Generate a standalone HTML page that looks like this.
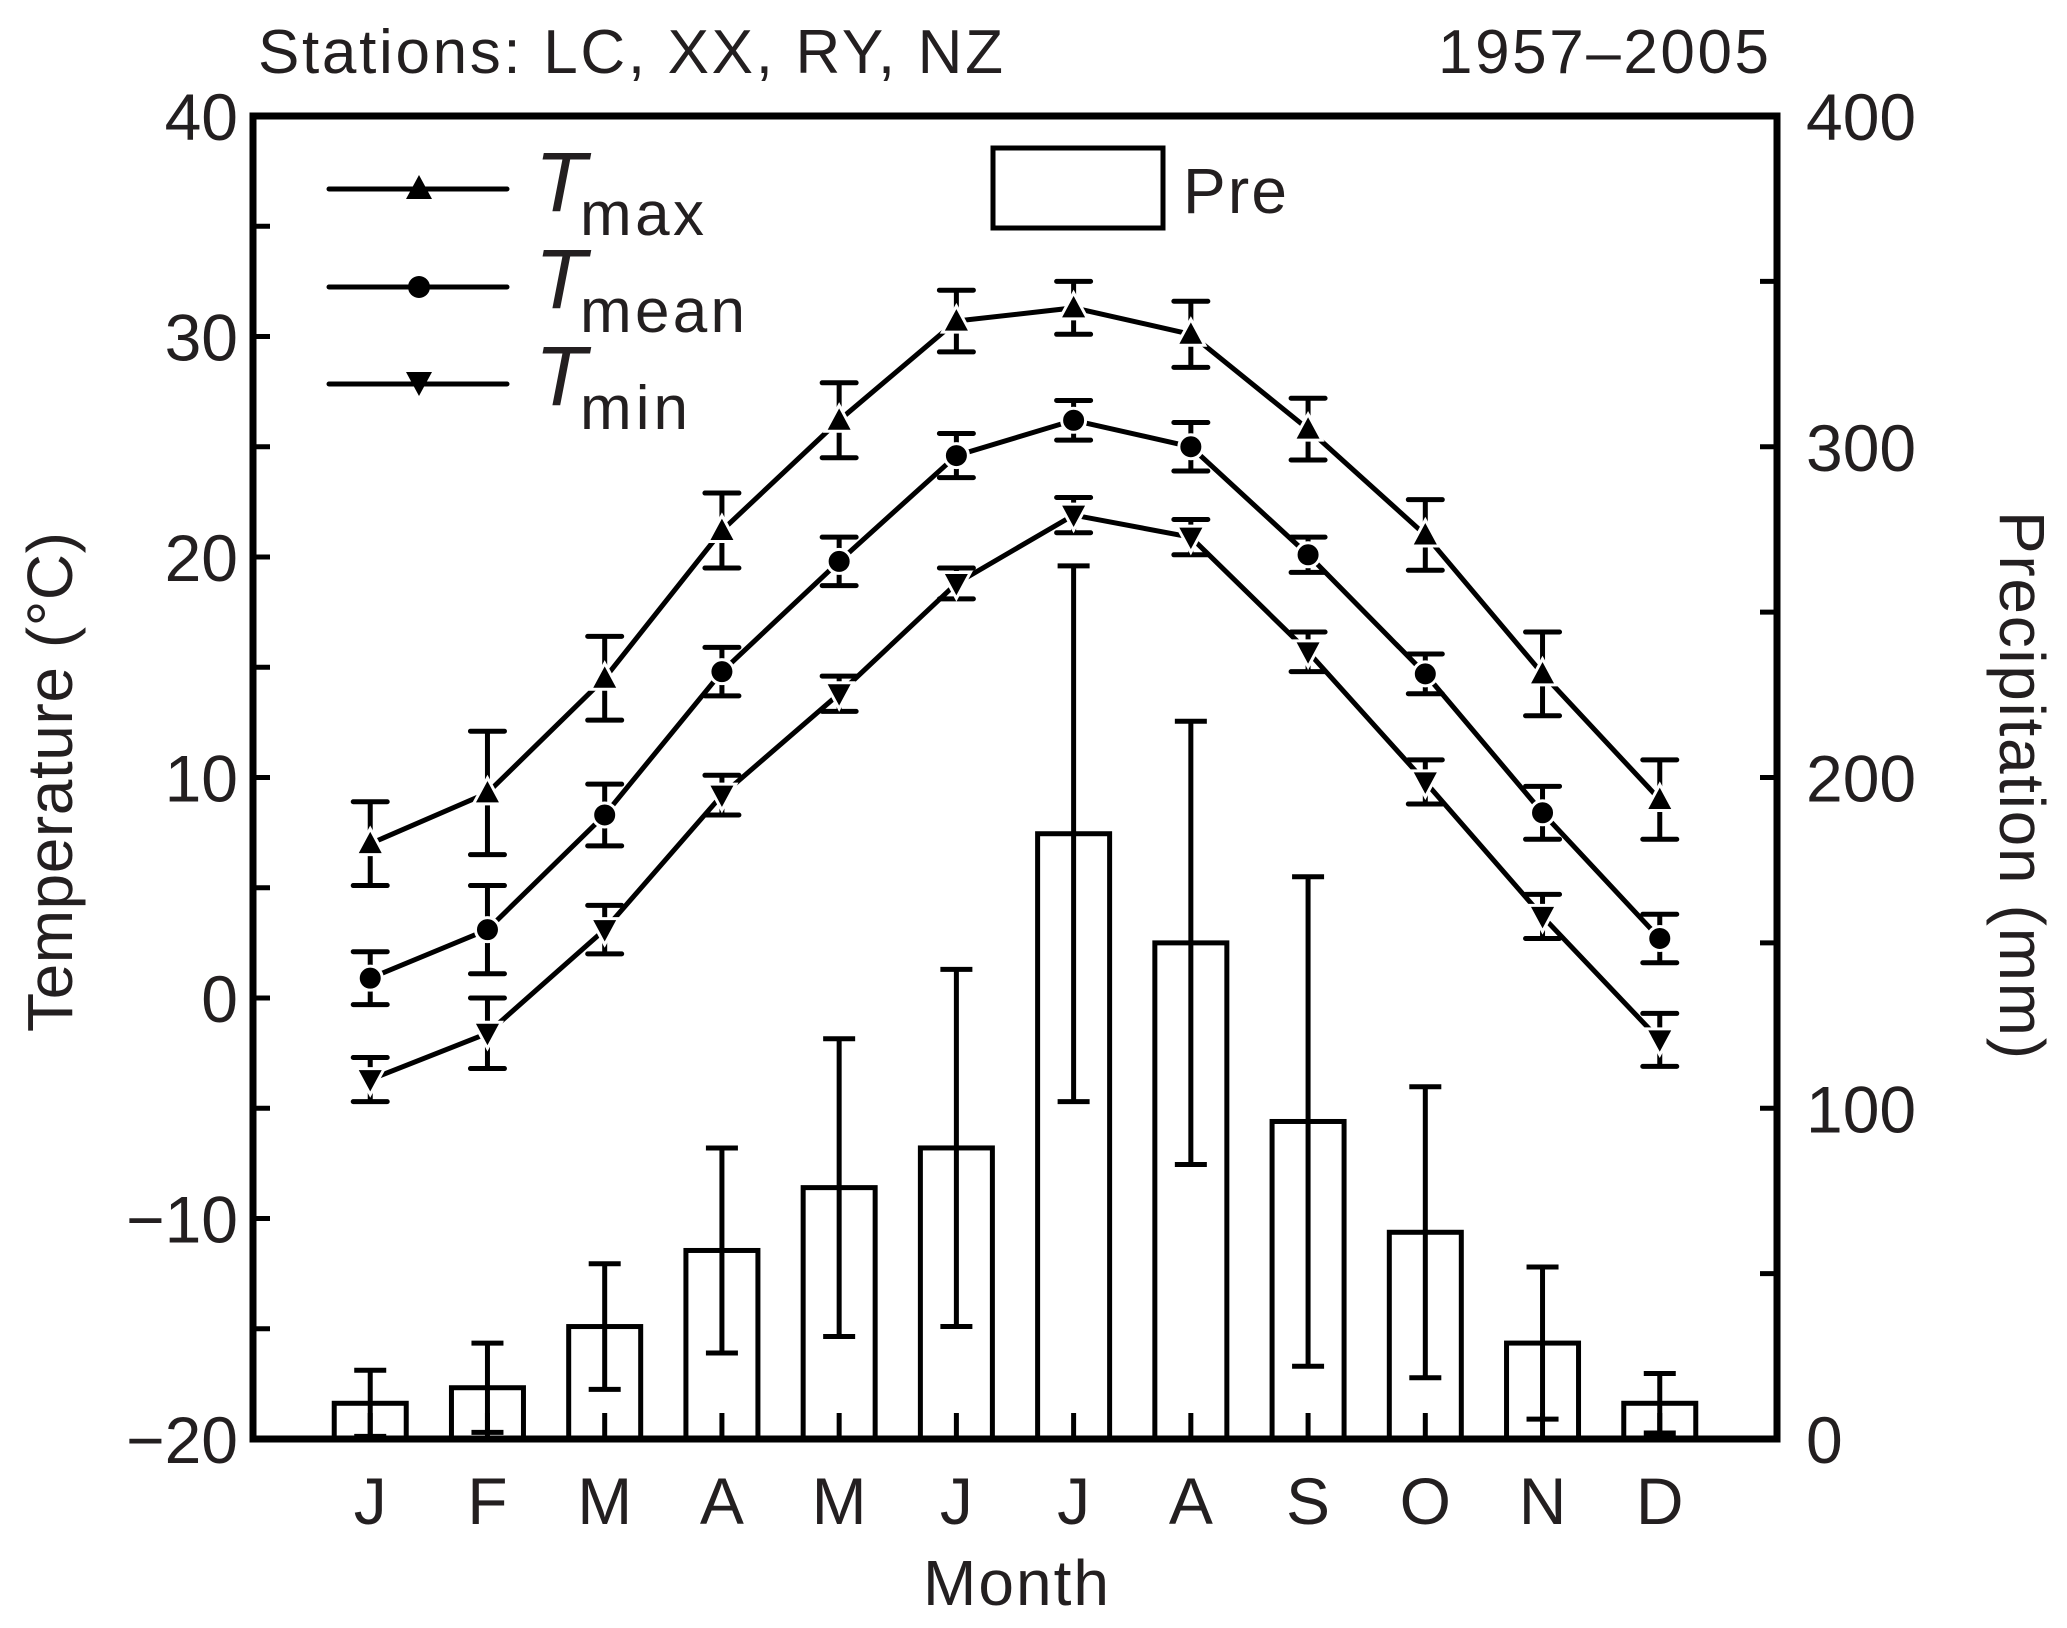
<!DOCTYPE html>
<html><head><meta charset="utf-8"><style>
html,body{margin:0;padding:0;background:#fff;}
svg text{font-family:"Liberation Sans",sans-serif;fill:#231f20;}
</style></head><body>
<svg id="c" width="2067" height="1623" viewBox="0 0 2067 1623" xmlns="http://www.w3.org/2000/svg">
<text x="258" y="73" font-size="62" textLength="745">Stations: LC, XX, RY, NZ</text>
<text x="1769" y="73" font-size="62" text-anchor="end" textLength="331">1957–2005</text>
<text transform="translate(72,782) rotate(-90)" font-size="64" text-anchor="middle" textLength="500">Temperature (°C)</text>
<text transform="translate(2000,785) rotate(90)" font-size="64" text-anchor="middle" textLength="548">Precipitation (mm)</text>
<text x="1016" y="1605" font-size="64" text-anchor="middle" textLength="186">Month</text>
<g id="plot"></g>
<g>
 <g>
  <line x1="329" y1="189" x2="507" y2="189" stroke="#000" stroke-width="5" stroke-linecap="round"/>
  <polygon points="419,175 406,199 432,199" fill="#000"/>
  <text x="535" y="211" font-size="84" font-style="italic">T</text>
  <text x="580" y="235" font-size="62" textLength="124">max</text>
 </g>
 <g>
  <line x1="329" y1="287" x2="507" y2="287" stroke="#000" stroke-width="5" stroke-linecap="round"/>
  <circle cx="419" cy="287" r="11" fill="#000"/>
  <text x="535" y="308" font-size="84" font-style="italic">T</text>
  <text x="580" y="332" font-size="62" textLength="165">mean</text>
 </g>
 <g>
  <line x1="329" y1="384" x2="507" y2="384" stroke="#000" stroke-width="5" stroke-linecap="round"/>
  <polygon points="419,396 406,372 432,372" fill="#000"/>
  <text x="535" y="405" font-size="84" font-style="italic">T</text>
  <text x="580" y="429" font-size="62" textLength="108">min</text>
 </g>
 <g>
  <rect x="993" y="148" width="170" height="80" fill="none" stroke="#000" stroke-width="5"/>
  <text x="1183" y="213" font-size="64" textLength="104">Pre</text>
 </g>
</g>
</svg>
<script>
const months = ["J","F","M","A","M","J","J","A","S","O","N","D"];
const tmax = [7.0,9.3,14.5,21.2,26.2,30.7,31.3,30.1,25.8,21.0,14.7,9.0];
const tmaxErr = [1.9,2.8,1.9,1.7,1.7,1.4,1.2,1.5,1.4,1.6,1.9,1.8];
const tmean = [0.9,3.1,8.3,14.8,19.8,24.6,26.2,25.0,20.1,14.7,8.4,2.7];
const tmeanErr = [1.2,2.0,1.4,1.1,1.1,1.0,0.9,1.1,0.8,0.9,1.2,1.1];
const tmin = [-3.7,-1.6,3.1,9.2,13.8,18.8,21.9,20.9,15.7,9.8,3.7,-1.9];
const tminErr = [1.0,1.6,1.1,0.9,0.8,0.7,0.8,0.8,0.9,1.0,1.0,1.2];
const pre = [10.8,15.5,34,57,76,88,183,150,96,62.5,29,10.8];
const preErr = [10,13.5,19,31,45,54,81,67,74,44,23,9];
const tempTicks = [-20,-10,0,10,20,30,40];
const preTicks = [0,100,200,300,400];
const tempTickLabels = ["\u221220","\u221210","0","10","20","30","40"];

const L=253,R=1777,T=116,B=1439;
const NS="http://www.w3.org/2000/svg";
const g=document.getElementById('plot');
function xS(i){return L+(R-L)/13*(i+1);}
function yT(v){return B-(v+20)/60*(B-T);}
function yP(v){return B-v/400*(B-T);}
function mk(tag,attrs,parent){const e=document.createElementNS(NS,tag);for(const k in attrs)e.setAttribute(k,attrs[k]);(parent||g).appendChild(e);return e;}

// bars
months.forEach((m,i)=>{
  const x=xS(i),y=yP(pre[i]);
  const r=mk('rect',{x:x-36,y:y,width:72,height:B-y,fill:'none',stroke:'#000','stroke-width':5});
  
  
  const hi=yP(pre[i]+preErr[i]), lo=yP(Math.max(0,pre[i]-preErr[i]));
  const e=mk('path',{d:`M${x},${hi}V${lo}M${x-16},${hi}H${x+16}M${x-16},${lo}H${x+16}`,stroke:'#000','stroke-width':5,fill:'none'});
  
  
});

function series(vals,errs,shape,name){
  const pts=vals.map((v,i)=>xS(i)+','+yT(v)).join(' ');
  const pl=mk('polyline',{points:pts,fill:'none',stroke:'#000','stroke-width':5});
  
  
  vals.forEach((v,i)=>{
    const x=xS(i),hi=yT(v+errs[i]),lo=yT(v-errs[i]);
    const e=mk('path',{d:`M${x},${hi}V${lo}M${x-17},${hi}H${x+17}M${x-17},${lo}H${x+17}`,stroke:'#000','stroke-width':5,fill:'none','stroke-linecap':'round'});
    
    
  });
  vals.forEach((v,i)=>{
    const x=xS(i),y=yT(v);let m;
    if(shape==='up') m=mk('polygon',{points:`${x},${y-15} ${x-14},${y+11} ${x+14},${y+11}`});
    else if(shape==='down') m=mk('polygon',{points:`${x},${y+15} ${x-14},${y-11} ${x+14},${y-11}`});
    else m=mk('circle',{cx:x,cy:y,r:12});
    m.setAttribute('fill','#000');m.setAttribute('stroke','#fff');m.setAttribute('stroke-width','3');
    
    
  });
}
series(tmax,tmaxErr,'up','tmax');
series(tmean,tmeanErr,'circle','tmean');
series(tmin,tminErr,'down','tmin');

// axes frame
const fr=mk('rect',{x:L,y:T,width:R-L,height:B-T,fill:'none',stroke:'#000','stroke-width':7});


// left ticks
for(let v=-20;v<=40;v+=5){const y=yT(v);mk('line',{x1:L,y1:y,x2:L+17,y2:y,stroke:'#000','stroke-width':5});}
tempTicks.forEach((v,i)=>{
  const t=mk('text',{x:238,y:yT(v)+24,'font-size':66,'text-anchor':'end'});t.textContent=tempTickLabels[i];
  
  
});
// right ticks
for(let v=0;v<=400;v+=50){const y=yP(v);mk('line',{x1:R,y1:y,x2:R-17,y2:y,stroke:'#000','stroke-width':5});}
preTicks.forEach(v=>{
  const t=mk('text',{x:1806,y:yP(v)+24,'font-size':66});t.textContent=v;
  
  
});
// bottom ticks & labels
months.forEach((m,i)=>{
  const x=xS(i);mk('line',{x1:x,y1:B,x2:x,y2:B-26,stroke:'#000','stroke-width':5});
  const t=mk('text',{x:x,y:1524,'font-size':66,'text-anchor':'middle'});t.textContent=m;
  
  
});
</script>
</body></html>
